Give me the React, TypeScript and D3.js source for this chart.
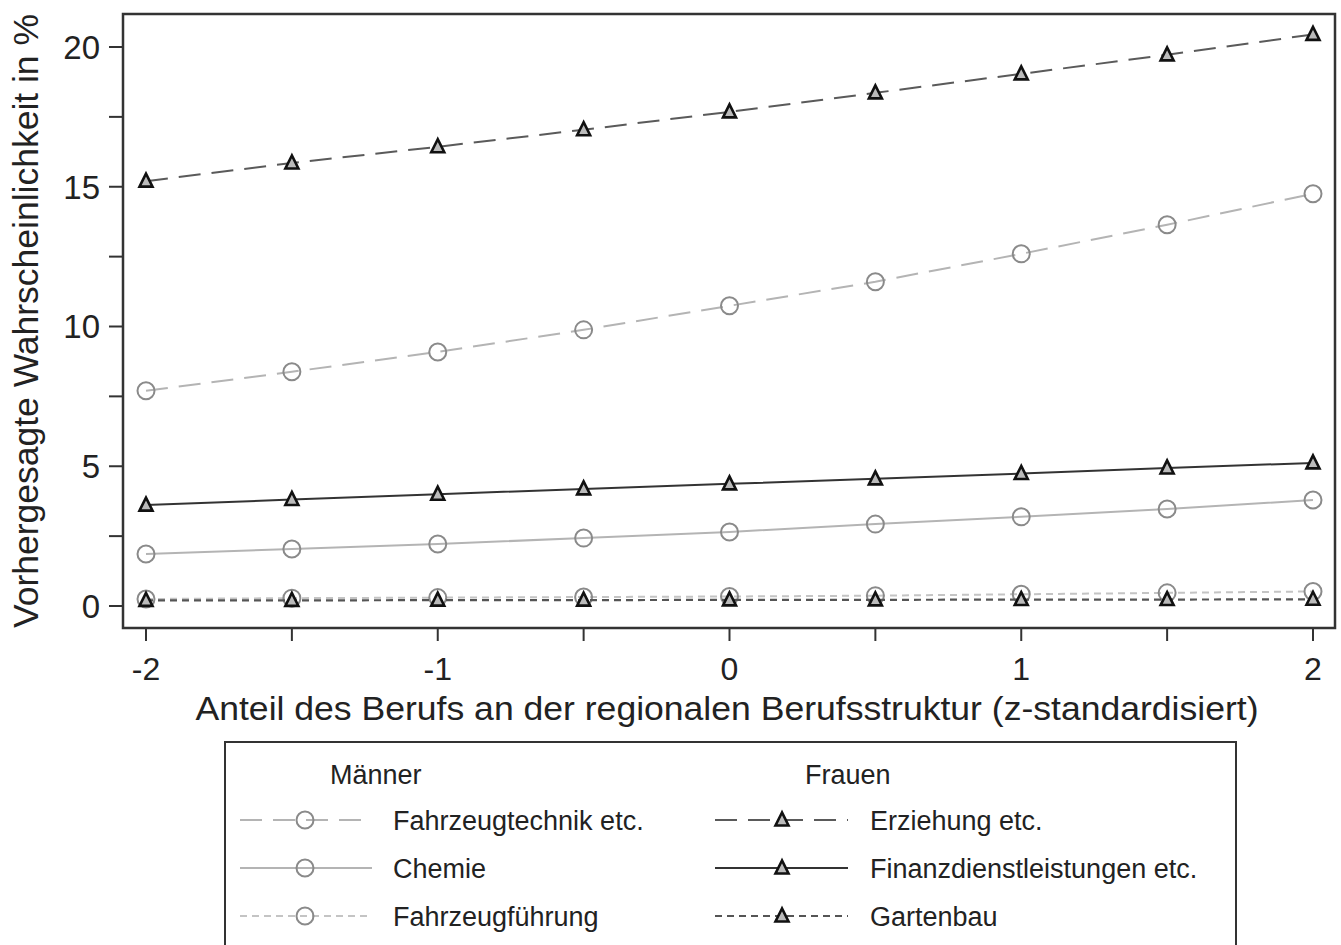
import React from "react";
import * as d3 from "d3";

const xValues = [-2, -1.5, -1, -0.5, 0, 0.5, 1, 1.5, 2];
const erziehung = [15.2, 15.85, 16.43, 17.04, 17.68, 18.36, 19.04, 19.72, 20.45];
const fahrzeugtechnik = [7.7, 8.38, 9.09, 9.88, 10.74, 11.6, 12.6, 13.64, 14.75];
const finanz = [3.61, 3.81, 4.0, 4.19, 4.37, 4.55, 4.74, 4.94, 5.12];
const chemie = [1.86, 2.04, 2.22, 2.43, 2.65, 2.93, 3.19, 3.47, 3.79];
const fahrzeugfuehrung = [0.25, 0.28, 0.3, 0.32, 0.34, 0.37, 0.42, 0.47, 0.52];
const gartenbau = [0.2, 0.2, 0.21, 0.21, 0.22, 0.22, 0.23, 0.23, 0.24];

const yTickLabels = [0, 5, 10, 15, 20];
const yMinorTicks = [2.5, 7.5, 12.5, 17.5];
const xTickLabels = [-2, -1, 0, 1, 2];
const xMinorTicks = [-1.5, -0.5, 0.5, 1.5];

type Series = { name: string; values: number[]; color: string; dash: string; marker: "circle" | "triangle"; width: number; markerColor: string };

const series: Series[] = [
  { name: "Fahrzeugtechnik etc.", values: fahrzeugtechnik, color: "#b4b4b4", dash: "22,11", marker: "circle", width: 2, markerColor: "#8a8a8a" },
  { name: "Chemie", values: chemie, color: "#b4b4b4", dash: "", marker: "circle", width: 2, markerColor: "#8a8a8a" },
  { name: "Fahrzeugführung", values: fahrzeugfuehrung, color: "#c4c4c4", dash: "7,5", marker: "circle", width: 2, markerColor: "#8a8a8a" },
  { name: "Erziehung etc.", values: erziehung, color: "#5a5a5a", dash: "22,11", marker: "triangle", width: 2, markerColor: "#111" },
  { name: "Finanzdienstleistungen etc.", values: finanz, color: "#333", dash: "", marker: "triangle", width: 2, markerColor: "#111" },
  { name: "Gartenbau", values: gartenbau, color: "#555", dash: "7,5", marker: "triangle", width: 2.2, markerColor: "#111" },
];

const FONT = "'Liberation Sans', Arial, sans-serif";

function Marker({ type, x, y, color }: { type: "circle" | "triangle"; x: number; y: number; color: string }) {
  if (type === "circle") {
    return <circle cx={x} cy={y} r={8.5} fill="none" stroke={color} strokeWidth={2} />;
  }
  const s = 6.5;
  const pts = `${x},${y - s - 1} ${x - s},${y + s - 1} ${x + s},${y + s - 1}`;
  return <polygon points={pts} fill="#bbb" stroke={color} strokeWidth={2.6} strokeLinejoin="miter" />;
}

export default function App() {
  const W = 1341, H = 945;
  const frame = { left: 123, right: 1335, top: 14, bottom: 628 };
  const x = d3.scaleLinear().domain([-2, 2]).range([146, 1313]);
  const y = d3.scaleLinear().domain([0, 20]).range([606, 47]);
  const line = d3.line<number>().x((_, i) => x(xValues[i])).y((d) => y(d));

  const leftSample = { x1: 240, x2: 372, mx: 305, tx: 393 };
  const rightSample = { x1: 715, x2: 848, mx: 782, tx: 870 };
  const rows = [820, 868, 916];

  return (
    <svg width={W} height={H} style={{ position: "absolute", left: 0, top: 0, background: "#fff" }} fontFamily={FONT}>
      <rect x={0} y={0} width={W} height={H} fill="#fff" />
      {/* frame */}
      <rect x={frame.left} y={frame.top} width={frame.right - frame.left} height={frame.bottom - frame.top} fill="none" stroke="#333" strokeWidth={2.5} />
      {/* y ticks */}
      {yTickLabels.concat(yMinorTicks).map((t) => (
        <line key={"yt" + t} x1={frame.left - 14} x2={frame.left} y1={y(t)} y2={y(t)} stroke="#333" strokeWidth={2} />
      ))}
      {yTickLabels.map((t) => (
        <text key={"yl" + t} x={100} y={y(t)} dy="0.36em" textAnchor="end" fontSize={33} fill="#222">{t}</text>
      ))}
      {/* x ticks */}
      {xTickLabels.concat(xMinorTicks).map((t) => (
        <line key={"xt" + t} x1={x(t)} x2={x(t)} y1={frame.bottom} y2={frame.bottom + 13} stroke="#333" strokeWidth={2} />
      ))}
      {xTickLabels.map((t) => (
        <text key={"xl" + t} x={x(t)} y={680} textAnchor="middle" fontSize={32} fill="#222">{t < 0 ? "-" + Math.abs(t) : t}</text>
      ))}
      {/* axis titles */}
      <text x={727} y={720} textAnchor="middle" fontSize={34} fill="#222" textLength={1063} lengthAdjust="spacingAndGlyphs">Anteil des Berufs an der regionalen Berufsstruktur (z-standardisiert)</text>
      <text transform="translate(38,321) rotate(-90)" textAnchor="middle" fontSize={35} fill="#222" textLength={614} lengthAdjust="spacingAndGlyphs">Vorhergesagte Wahrscheinlichkeit in %</text>
      {/* series */}
      {series.map((s) => (
        <g key={s.name}>
          <path d={line(s.values) || ""} fill="none" stroke={s.color} strokeWidth={s.width} strokeDasharray={s.dash || undefined} />
          {s.values.map((v, i) => (
            <Marker key={i} type={s.marker} x={x(xValues[i])} y={y(v)} color={s.markerColor} />
          ))}
        </g>
      ))}
      {/* legend */}
      <rect x={225} y={742} width={1011} height={230} fill="#fff" stroke="#333" strokeWidth={2} />
      <text x={330} y={784} fontSize={27} fill="#222">Männer</text>
      <text x={805} y={784} fontSize={27} fill="#222">Frauen</text>
      {series.map((s, i) => {
        const col = i < 3 ? leftSample : rightSample;
        const ry = rows[i % 3];
        return (
          <g key={"lg" + s.name}>
            <line x1={col.x1} x2={col.x2} y1={ry} y2={ry} stroke={s.color} strokeWidth={s.width} strokeDasharray={s.dash || undefined} />
            <Marker type={s.marker} x={col.mx} y={ry} color={s.markerColor} />
            <text x={col.tx} y={ry} dy="0.36em" fontSize={27} fill="#222">{s.name}</text>
          </g>
        );
      })}
    </svg>
  );
}
